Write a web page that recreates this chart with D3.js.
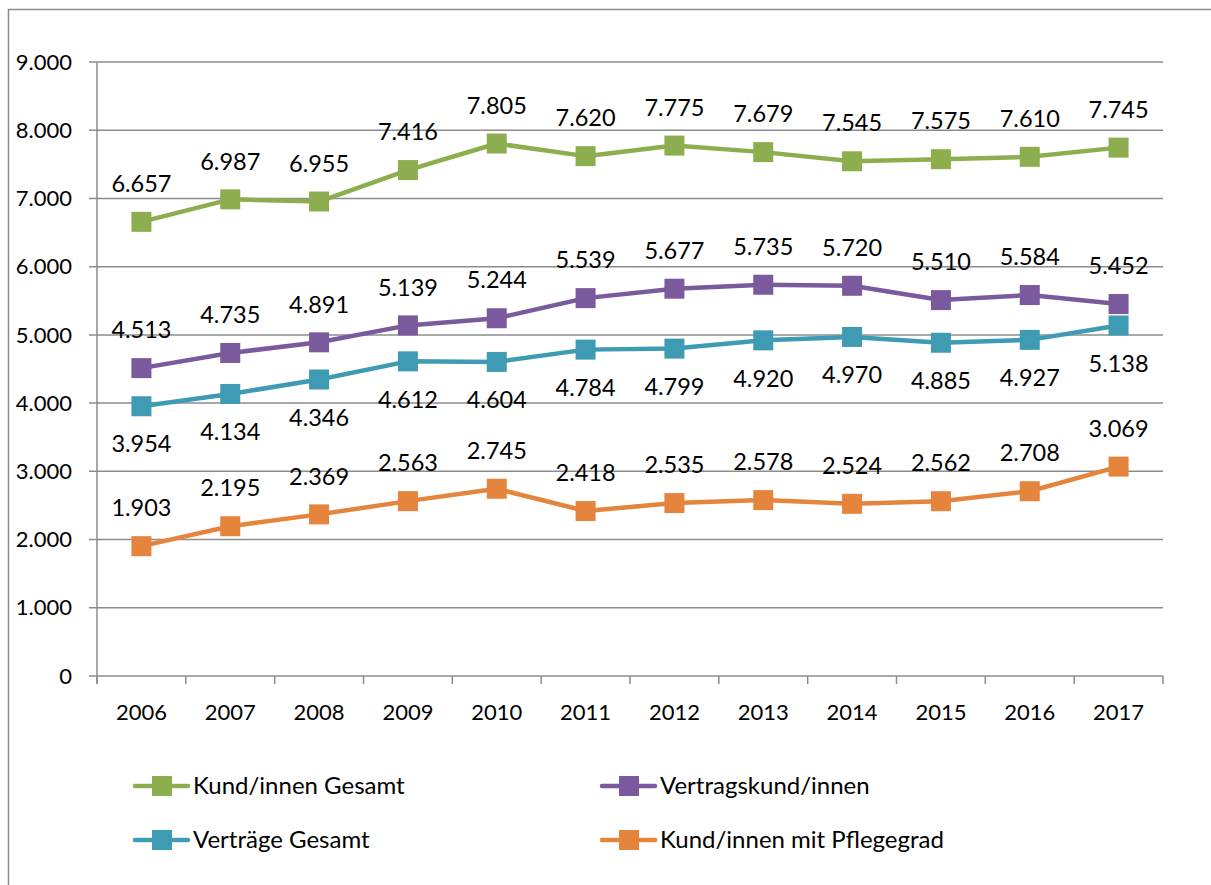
<!DOCTYPE html>
<meta charset="utf-8">
<script src="https://d3js.org/d3.v7.min.js"></script>
<style>
  body { margin: 0; background: #fff; }
  text { font-family: Lato, "Open Sans", sans-serif; fill: #000; }
  .grid line { stroke: #8c8c8c; stroke-width: 1.5px; }
</style>
<div id="chart"></div>
<script>
  var years = ["2006","2007","2008","2009","2010","2011","2012","2013","2014","2015","2016","2017"];
  var kundenGesamt = [6657, 6987, 6955, 7416, 7805, 7620, 7775, 7679, 7545, 7575, 7610, 7745];
  var vertragskunden = [4513, 4735, 4891, 5139, 5244, 5539, 5677, 5735, 5720, 5510, 5584, 5452];
  var vertraegeGesamt = [3954, 4134, 4346, 4612, 4604, 4784, 4799, 4920, 4970, 4885, 4927, 5138];
  var pflegegrad = [1903, 2195, 2369, 2563, 2745, 2418, 2535, 2578, 2524, 2562, 2708, 3069];
  var yTicks = [0, 1000, 2000, 3000, 4000, 5000, 6000, 7000, 8000, 9000];

  var series = [
    { name: "Kund/innen Gesamt", values: kundenGesamt, color: "#8cae4f", label: "above" },
    { name: "Vertragskund/innen", values: vertragskunden, color: "#7a5a9c", label: "above" },
    { name: "Verträge Gesamt", values: vertraegeGesamt, color: "#3f9ab4", label: "below" },
    { name: "Kund/innen mit Pflegegrad", values: pflegegrad, color: "#e5843d", label: "above" }
  ];

  var width = 1211, height = 885;
  var svg = d3.select("#chart").append("svg")
    .attr("width", width)
    .attr("height", height);

  // outer frame (runs off right/bottom edge like the screenshot)
  svg.append("path")
    .attr("d", "M8.5," + height + " V9.5 H" + width)
    .attr("fill", "none")
    .attr("stroke", "#8c8c8c")
    .attr("stroke-width", 1.5);

  var plotLeft = 97, plotRight = 1163, plotTop = 62, plotBottom = 676;

  var x = d3.scaleBand().domain(years).range([plotLeft, plotRight]);
  var y = d3.scaleLinear().domain([0, 9000]).range([plotBottom, plotTop]);
  var cx = function (i) { return x(years[i]) + x.bandwidth() / 2; };

  var fmt = function (v) { return v === 0 ? "0" : d3.format(",")(v).replace(/,/g, "."); };

  // gridlines
  svg.append("g").attr("class", "grid")
    .selectAll("line").data(yTicks).enter().append("line")
    .attr("x1", plotLeft - 8).attr("x2", plotRight)
    .attr("y1", function (d) { return y(d); })
    .attr("y2", function (d) { return y(d); });

  // y axis line
  svg.append("line").attr("x1", plotLeft).attr("x2", plotLeft)
    .attr("y1", plotTop).attr("y2", plotBottom + 8)
    .attr("stroke", "#8c8c8c").attr("stroke-width", 1.5);

  // x ticks
  var bounds = years.map(function (d) { return x(d); }).concat([plotRight]);
  svg.append("g").attr("class", "grid")
    .selectAll("line").data(bounds).enter().append("line")
    .attr("x1", function (d) { return d; }).attr("x2", function (d) { return d; })
    .attr("y1", plotBottom).attr("y2", plotBottom + 8);

  // y labels
  svg.append("g").selectAll("text").data(yTicks).enter().append("text")
    .attr("x", 72).attr("y", function (d) { return y(d); })
    .attr("dy", "0.35em")
    .attr("text-anchor", "end")
    .style("font-size", "22px")
    .text(fmt);

  // x labels
  svg.append("g").selectAll("text").data(years).enter().append("text")
    .attr("x", function (d, i) { return cx(i); })
    .attr("y", 712)
    .attr("dy", "0.35em")
    .attr("text-anchor", "middle")
    .style("font-size", "22px")
    .text(function (d) { return d; });

  var line = d3.line()
    .x(function (d, i) { return cx(i); })
    .y(function (d) { return y(d); });

  series.forEach(function (s) {
    var g = svg.append("g");
    g.append("path")
      .datum(s.values)
      .attr("d", line)
      .attr("fill", "none")
      .attr("stroke", s.color)
      .attr("stroke-width", 4.5)
      .attr("stroke-linejoin", "round");
    g.selectAll("rect").data(s.values).enter().append("rect")
      .attr("x", function (d, i) { return cx(i) - 10; })
      .attr("y", function (d) { return y(d) - 10; })
      .attr("width", 20).attr("height", 20)
      .attr("fill", s.color);
    g.selectAll("text").data(s.values).enter().append("text")
      .attr("x", function (d, i) { return cx(i); })
      .attr("y", function (d) { return y(d) + (s.label === "above" ? -38 : 38); })
      .attr("dy", "0.35em")
      .attr("text-anchor", "middle")
      .style("font-size", "23.5px")
      .text(fmt);
  });

  // legend
  var legendPos = [[133, 786], [600, 786], [133, 840], [600, 840]];
  series.forEach(function (s, i) {
    var p = legendPos[i];
    var lg = svg.append("g").attr("transform", "translate(" + p[0] + "," + p[1] + ")");
    lg.append("line").attr("x1", 2).attr("x2", 55).attr("y1", 0).attr("y2", 0)
      .attr("stroke", s.color).attr("stroke-width", 4.5).attr("stroke-linecap", "round");
    lg.append("rect").attr("x", 19).attr("y", -10).attr("width", 20).attr("height", 20)
      .attr("fill", s.color);
    lg.append("text").attr("x", 60).attr("y", 0).attr("dy", "0.35em")
      .style("font-size", "24px").text(s.name);
  });
</script>
